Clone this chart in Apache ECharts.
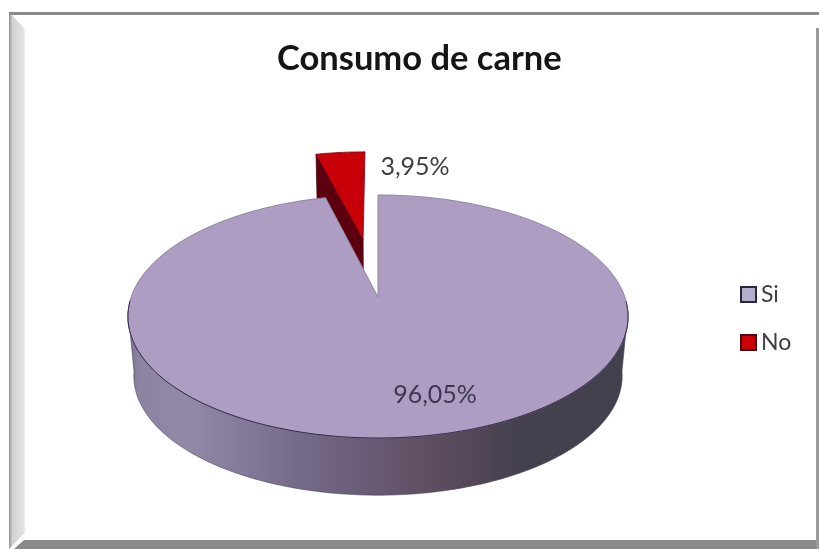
<!DOCTYPE html>
<html>
<head>
<meta charset="utf-8">
<style>html,body{margin:0;padding:0;background:#fff}#chart{width:819px;height:549px}</style>
<script src="https://cdn.jsdelivr.net/npm/echarts@6/dist/echarts.min.js"></script>
</head>
<body>
<div id="chart"></div>
<script>
// Meat consumption survey, drawn as a perspective 3D pie.
const categories = ['Si', 'No'];
const shares = [96.05, 3.95];
const chartTitle = 'Consumo de carne';

// Perspective view of the disc: unit circle plane mapped to the page.
const topPlane = { x0: 378, y0: 297, a: 118.4, b: 246.8, k: 0.1605 };
const basePlane = { x0: 378, y0: 357, a: 116, b: 241, k: 0.1605 };
const explodeNo = 0.53;
const labelCentres = [[435, 395], [415, 167]];
const labelColours = ['#3e3653', '#404040'];

function project(plane, r, phi, shift) {
  const X = r * Math.sin(phi) + (shift ? shift.e * Math.sin(shift.mid) : 0);
  const Y = r * Math.cos(phi) + (shift ? shift.e * Math.cos(shift.mid) : 0);
  const w = 1 + plane.k * Y;
  return [plane.x0 + plane.b * X / w, plane.y0 - plane.a * Y / w];
}
function rim(plane, from, to, shift) {
  const pts = [], n = Math.max(2, Math.ceil(Math.abs(to - from) * 60));
  for (let i = 0; i <= n; i++) pts.push(project(plane, 1, from + (to - from) * i / n, shift));
  return pts;
}
function sliceAngles(index) {
  const total = shares.reduce((a, b) => a + b, 0);
  let acc = 0;
  for (let i = 0; i < index; i++) acc += shares[i];
  return [acc / total * 2 * Math.PI, (acc + shares[index]) / total * 2 * Math.PI];
}
function labelOf(value, index) {
  return {
    type: 'text', z2: 20,
    style: {
      text: value.toFixed(2).replace('.', ',') + '%',
      x: labelCentres[index][0], y: labelCentres[index][1],
      align: 'center', verticalAlign: 'middle',
      font: '25px Lato', fill: labelColours[index]
    }
  };
}

// Large slice: outer wall, then the top face and its rim.
function renderSi(params, api) {
  const [a0, a1] = sliceAngles(0);
  const sideL = 97 * Math.PI / 180, sideR = 263 * Math.PI / 180;
  const wall = rim(basePlane, sideL, sideR).concat(rim(topPlane, sideR, sideL));
  const face = [project(topPlane, 0, 0)].concat(rim(topPlane, a0, a1));
  return {
    type: 'group',
    children: [
      { type: 'polygon', shape: { points: wall },
        style: {
          fill: new echarts.graphic.LinearGradient(0, 0, 1, 0, [
            { offset: 0, color: '#6f6688' }, { offset: 0.02, color: '#8c83a3' },
            { offset: 0.12, color: '#9288a8' }, { offset: 0.35, color: '#75698a' },
            { offset: 0.62, color: '#5c4c5e' }, { offset: 0.78, color: '#45404f' },
            { offset: 1, color: '#43414e' }
          ]),
          stroke: '#4a4458', lineWidth: 0.6
        } },
      { type: 'polygon', shape: { points: face },
        style: { fill: '#ad9dc3', stroke: '#8f86a2', lineWidth: 1 } },
      { type: 'polyline', shape: { points: rim(topPlane, sideL * 0.95, sideR * 1.02) },
        style: { fill: null, stroke: '#352a4c', lineWidth: 1 } },
      labelOf(api.value(0), 0)
    ]
  };
}

// Small slice, pulled out of the disc and partly hidden by the large one.
function renderNo(params, api) {
  const [a0, a1] = sliceAngles(1);
  const shift = { e: explodeNo, mid: (a0 + a1) / 2 };
  const apexTop = project(topPlane, 0, 0, shift);
  const apexBase = project(basePlane, 0, 0, shift);
  const leftTop = project(topPlane, 1, a0, shift);
  const leftBase = project(basePlane, 1, a0, shift);
  return {
    type: 'group',
    children: [
      { type: 'polygon', shape: { points: [apexTop, leftTop, leftBase, apexBase] },
        style: { fill: '#5c0010', stroke: '#4a0010', lineWidth: 0.8 } },
      { type: 'polygon', shape: { points: [apexTop].concat(rim(topPlane, a0, a1, shift)) },
        style: { fill: '#c80008', stroke: '#7a0010', lineWidth: 0.8 } },
      labelOf(api.value(0), 1)
    ]
  };
}

const chart = echarts.init(document.getElementById('chart'), null, { renderer: 'canvas' });
chart.setOption({
  animation: false,
  backgroundColor: '#ffffff',
  title: {
    text: chartTitle, left: 272, top: 36,
    textStyle: { fontFamily: 'Lato', fontWeight: 'bold', fontSize: 34.5, color: '#151515' }
  },
  legend: {
    orient: 'vertical', left: 740, top: 283, padding: 0, itemWidth: 15, itemHeight: 15, itemGap: 25,
    icon: 'rect',
    textStyle: { fontFamily: 'Lato', fontSize: 23, color: '#404040' },
    data: [
      { name: categories[0], itemStyle: { color: '#b4aecd', borderColor: '#2a2640', borderWidth: 2 } },
      { name: categories[1], itemStyle: { color: '#cc0008', borderColor: '#4a0a14', borderWidth: 2 } }
    ]
  },
  graphic: [
    // Bevelled chart frame
    { type: 'polygon', z: -10, silent: true,
      shape: { points: [[9, 12], [26, 30], [26, 532], [9, 549]] },
      style: { fill: new echarts.graphic.LinearGradient(0, 0, 1, 0, [
        { offset: 0, color: '#8f8f8f' }, { offset: 0.2, color: '#d2d2d2' },
        { offset: 0.85, color: '#e2e2e2' }, { offset: 1, color: '#ffffff' }]) } },
    { type: 'rect', z: -10, silent: true, shape: { x: 9, y: 12, width: 810, height: 3 }, style: { fill: '#8a8a8a' } },
    { type: 'polygon', z: -10, silent: true, shape: { points: [[24, 540], [819, 540], [819, 549], [14, 549]] }, style: { fill: '#8a8a8a' } },
    { type: 'rect', z: -10, silent: true, shape: { x: 816, y: 28, width: 3, height: 521 }, style: { fill: '#9a9a9a' } }
  ],
  series: [
    { type: 'custom', name: categories[1], coordinateSystem: 'none', z: 2,
      itemStyle: { color: '#cc0008' }, renderItem: renderNo, data: [shares[1]] },
    { type: 'custom', name: categories[0], coordinateSystem: 'none', z: 3,
      itemStyle: { color: '#b4aecd' }, renderItem: renderSi, data: [shares[0]] }
  ]
});
</script>
</body>
</html>
